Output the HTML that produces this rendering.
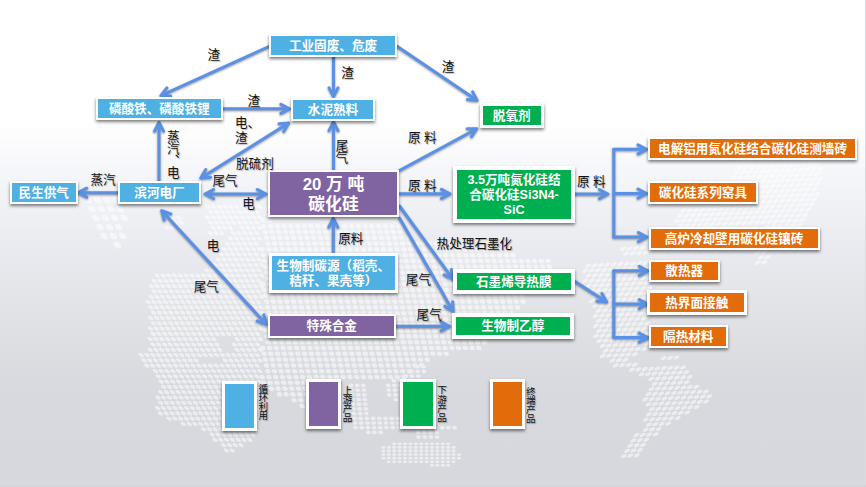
<!DOCTYPE html>
<html lang="zh"><head><meta charset="utf-8"><title>碳化硅</title>
<style>
html,body{margin:0;padding:0;}
body{width:866px;height:487px;overflow:hidden;position:relative;font-family:"Liberation Sans","Noto Sans CJK SC",sans-serif;
background:linear-gradient(to bottom,#ffffff 0px,#ffffff 122px,#f4f5f9 180px,#e8e9ee 260px,#e1e3e7 310px,#d8dadf 380px,#d7d9de 400px,#d6d8dd 487px);}
.bx{position:absolute;box-sizing:border-box;border-style:solid;border-color:#fff;color:#fff;font-weight:bold;text-align:center;
display:flex;align-items:center;justify-content:center;box-shadow:0 2px 3px rgba(0,0,0,.5);white-space:nowrap;}
.lb{position:absolute;color:#111;white-space:nowrap;line-height:1.2;text-shadow:1px 1px 1px rgba(0,0,0,.3);}
.vl{position:absolute;color:#111;writing-mode:vertical-rl;white-space:nowrap;text-shadow:1px 1px 1px rgba(0,0,0,.3);}
.sl{position:absolute;color:#111;text-align:center;word-break:break-all;line-break:anywhere;text-shadow:1px 1px 1px rgba(0,0,0,.3);}
.sl span{display:block;}
.bx i{font-style:normal;position:relative;}
svg{position:absolute;left:0;top:0;}
#edge{position:absolute;right:0;top:0;width:1px;height:487px;background:#d9dbdf;}
#btm{position:absolute;left:0;bottom:0;width:866px;height:2px;background:#cfd5d9;}
</style></head><body>

<svg width="866" height="487" viewBox="0 0 866 487"><g opacity="0.55">
<g transform="matrix(5.8 0 2.8 5.3 0 0)"><path d="M17 39h0M18 39h0M19 39h0M20 39h0M21 39h0M22 39h0M23 39h0M24 39h0M25 39h0M26 39h0M17 40h0M18 40h0M19 40h0M20 40h0M21 40h0M22 40h0M23 40h0M24 40h0M25 40h0M9 41h0M10 41h0M11 41h0M16 41h0M17 41h0M18 41h0M19 41h0M20 41h0M21 41h0M22 41h0M23 41h0M24 41h0M25 41h0M9 42h0M10 42h0M11 42h0M16 42h0M17 42h0M18 42h0M19 42h0M20 42h0M21 42h0M22 42h0M23 42h0M24 42h0M8 43h0M9 43h0M10 43h0M16 43h0M17 43h0M18 43h0M19 43h0M21 43h0M22 43h0M23 43h0M24 43h0M15 44h0M16 44h0M17 44h0M19 44h0M20 44h0M21 44h0M22 44h0M23 44h0M18 45h0M19 45h0M20 45h0M21 45h0M22 45h0M23 45h0M17 46h0M18 46h0M19 46h0M20 46h0M21 46h0M22 46h0M16 47h0M17 47h0M18 47h0M19 47h0M20 47h0M21 47h0M22 47h0M15 48h0M16 48h0M17 48h0M18 48h0M19 48h0M20 48h0M21 48h0M14 49h0M15 49h0M16 49h0M17 49h0M18 49h0M19 49h0M20 49h0M21 49h0M13 50h0M14 50h0M15 50h0M16 50h0M17 50h0M18 50h0M19 50h0M20 50h0M21 50h0M11 51h0M12 51h0M13 51h0M14 51h0M15 51h0M16 51h0M17 51h0M18 51h0M19 51h0M20 51h0M2 52h0M3 52h0M4 52h0M5 52h0M6 52h0M7 52h0M8 52h0M9 52h0M10 52h0M11 52h0M12 52h0M13 52h0M14 52h0M15 52h0M16 52h0M17 52h0M18 52h0M19 52h0M20 52h0M1 53h0M2 53h0M3 53h0M4 53h0M5 53h0M6 53h0M7 53h0M8 53h0M9 53h0M10 53h0M11 53h0M12 53h0M13 53h0M14 53h0M15 53h0M16 53h0M17 53h0M18 53h0M19 53h0M0 54h0M1 54h0M2 54h0M3 54h0M4 54h0M5 54h0M6 54h0M7 54h0M8 54h0M9 54h0M10 54h0M11 54h0M12 54h0M13 54h0M14 54h0M15 54h0M16 54h0M17 54h0M18 54h0M19 54h0M0 55h0M1 55h0M2 55h0M3 55h0M4 55h0M5 55h0M6 55h0M7 55h0M8 55h0M9 55h0M10 55h0M11 55h0M12 55h0M13 55h0M14 55h0M15 55h0M16 55h0M17 55h0M18 55h0M-1 56h0M0 56h0M1 56h0M2 56h0M3 56h0M4 56h0M5 56h0M6 56h0M7 56h0M8 56h0M9 56h0M10 56h0M11 56h0M12 56h0M13 56h0M14 56h0M15 56h0M16 56h0M17 56h0M18 56h0M-2 57h0M-1 57h0M0 57h0M1 57h0M2 57h0M3 57h0M4 57h0M5 57h0M6 57h0M7 57h0M8 57h0M9 57h0M10 57h0M11 57h0M12 57h0M13 57h0M14 57h0M15 57h0M16 57h0M17 57h0M-2 58h0M-1 58h0M0 58h0M1 58h0M2 58h0M3 58h0M4 58h0M5 58h0M6 58h0M7 58h0M8 58h0M9 58h0M10 58h0M11 58h0M12 58h0M13 58h0M14 58h0M15 58h0M16 58h0M17 58h0M-2 59h0M-1 59h0M0 59h0M1 59h0M2 59h0M3 59h0M4 59h0M5 59h0M6 59h0M7 59h0M8 59h0M9 59h0M10 59h0M11 59h0M12 59h0M13 59h0M14 59h0M15 59h0M16 59h0M-3 60h0M-2 60h0M-1 60h0M0 60h0M1 60h0M2 60h0M3 60h0M4 60h0M5 60h0M6 60h0M7 60h0M8 60h0M9 60h0M10 60h0M11 60h0M12 60h0M13 60h0M14 60h0M15 60h0M16 60h0M-3 61h0M-2 61h0M-1 61h0M0 61h0M1 61h0M2 61h0M3 61h0M4 61h0M5 61h0M6 61h0M7 61h0M8 61h0M9 61h0M10 61h0M11 61h0M12 61h0M13 61h0M14 61h0M15 61h0M-4 62h0M-3 62h0M-2 62h0M-1 62h0M0 62h0M1 62h0M2 62h0M3 62h0M4 62h0M5 62h0M6 62h0M7 62h0M8 62h0M9 62h0M10 62h0M11 62h0M12 62h0M13 62h0M14 62h0M15 62h0M-4 63h0M-3 63h0M-2 63h0M-1 63h0M0 63h0M1 63h0M2 63h0M3 63h0M4 63h0M5 63h0M6 63h0M7 63h0M8 63h0M9 63h0M10 63h0M11 63h0M12 63h0M13 63h0M14 63h0M-5 64h0M-4 64h0M-3 64h0M-2 64h0M-1 64h0M0 64h0M1 64h0M2 64h0M3 64h0M4 64h0M5 64h0M6 64h0M10 64h0M11 64h0M12 64h0M13 64h0M14 64h0M-5 65h0M-4 65h0M-3 65h0M-2 65h0M-1 65h0M0 65h0M1 65h0M2 65h0M3 65h0M4 65h0M5 65h0M6 65h0M9 65h0M10 65h0M11 65h0M12 65h0M13 65h0M-6 66h0M-5 66h0M-4 66h0M-3 66h0M-2 66h0M-1 66h0M0 66h0M1 66h0M2 66h0M3 66h0M4 66h0M5 66h0M6 66h0M9 66h0M10 66h0M11 66h0M12 66h0M13 66h0M-8 67h0M-7 67h0M-6 67h0M-5 67h0M-4 67h0M-3 67h0M-2 67h0M-1 67h0M0 67h0M1 67h0M2 67h0M3 67h0M4 67h0M5 67h0M6 67h0M7 67h0M8 67h0M9 67h0M10 67h0M11 67h0M12 67h0M-8 68h0M-7 68h0M-6 68h0M-5 68h0M-4 68h0M-3 68h0M-2 68h0M-1 68h0M0 68h0M1 68h0M6 68h0M7 68h0M8 68h0M9 68h0M10 68h0M11 68h0M12 68h0M-8 69h0M-7 69h0M-6 69h0M-5 69h0M-4 69h0M-3 69h0M-2 69h0M-1 69h0M0 69h0M1 69h0M2 69h0M3 69h0M4 69h0M5 69h0M6 69h0M7 69h0M8 69h0M9 69h0M10 69h0M11 69h0M-7 70h0M-6 70h0M-5 70h0M-4 70h0M-3 70h0M-2 70h0M-1 70h0M0 70h0M1 70h0M2 70h0M3 70h0M4 70h0M5 70h0M6 70h0M7 70h0M8 70h0M9 70h0M10 70h0M11 70h0M-7 71h0M-6 71h0M-5 71h0M-4 71h0M-3 71h0M-2 71h0M-1 71h0M0 71h0M1 71h0M2 71h0M3 71h0M4 71h0M5 71h0M6 71h0M7 71h0M8 71h0M9 71h0M10 71h0M-7 72h0M-6 72h0M-5 72h0M-4 72h0M-3 72h0M-2 72h0M-1 72h0M0 72h0M1 72h0M2 72h0M3 72h0M4 72h0M5 72h0M6 72h0M7 72h0M8 72h0M9 72h0M10 72h0M-7 73h0M-6 73h0M-5 73h0M-4 73h0M-3 73h0M-2 73h0M-1 73h0M0 73h0M1 73h0M2 73h0M3 73h0M4 73h0M5 73h0M6 73h0M7 73h0M8 73h0M9 73h0M-8 74h0M-7 74h0M-6 74h0M-5 74h0M-4 74h0M-3 74h0M-2 74h0M-1 74h0M0 74h0M1 74h0M2 74h0M3 74h0M4 74h0M5 74h0M6 74h0M7 74h0M8 74h0M-9 75h0M-8 75h0M-7 75h0M-6 75h0M-5 75h0M-4 75h0M-3 75h0M-2 75h0M-1 75h0M0 75h0M1 75h0M2 75h0M3 75h0M4 75h0M5 75h0M6 75h0M7 75h0M8 75h0M-9 76h0M-8 76h0M-7 76h0M-6 76h0M-5 76h0M-4 76h0M-3 76h0M-2 76h0M-1 76h0M0 76h0M1 76h0M2 76h0M3 76h0M4 76h0M5 76h0M6 76h0M7 76h0M-10 77h0M-9 77h0M-8 77h0M-7 77h0M-6 77h0M-5 77h0M-4 77h0M-3 77h0M-2 77h0M-1 77h0M0 77h0M1 77h0M2 77h0M3 77h0M4 77h0M5 77h0M6 77h0M7 77h0M-10 78h0M-9 78h0M-8 78h0M-7 78h0M-6 78h0M-5 78h0M-4 78h0M-3 78h0M-2 78h0M-1 78h0M0 78h0M1 78h0M2 78h0M3 78h0M4 78h0M5 78h0M6 78h0M-9 79h0M-8 79h0M-7 79h0M-6 79h0M-5 79h0M-4 79h0M-3 79h0M-2 79h0M-1 79h0M0 79h0M1 79h0M2 79h0M3 79h0M4 79h0M5 79h0M6 79h0M-7 80h0M-6 80h0M-5 80h0M-4 80h0M-3 80h0M-2 80h0M-1 80h0M0 80h0M1 80h0M2 80h0M3 80h0M4 80h0M5 80h0M-4 81h0M-3 81h0M-2 81h0M-1 81h0M0 81h0M1 81h0M2 81h0M3 81h0M4 81h0M5 81h0M-3 82h0M-2 82h0M-1 82h0M0 82h0M1 82h0M2 82h0M3 82h0M4 82h0M-3 83h0M-2 83h0M-1 83h0M0 83h0M1 83h0M2 83h0M3 83h0M-2 84h0M-1 84h0M0 84h0M1 84h0M-2 85h0M-1 85h0" fill="none" stroke="#fff" stroke-width="0.8" stroke-linecap="round"/></g>
<g transform="matrix(6.75 0 1.23 5.8 0 0)"><path d="M33 36h0M34 36h0M33 37h0M32 38h0M33 38h0M32 39h0M33 39h0M34 39h0M35 39h0M36 39h0M37 39h0M38 39h0M39 39h0M40 39h0M41 39h0M42 39h0M43 39h0M44 39h0M45 39h0M46 39h0M47 39h0M48 39h0M49 39h0M50 39h0M51 39h0M52 39h0M32 40h0M33 40h0M34 40h0M35 40h0M36 40h0M37 40h0M38 40h0M39 40h0M40 40h0M41 40h0M42 40h0M43 40h0M44 40h0M45 40h0M46 40h0M47 40h0M48 40h0M49 40h0M50 40h0M51 40h0M52 40h0M32 41h0M33 41h0M34 41h0M35 41h0M36 41h0M37 41h0M38 41h0M39 41h0M40 41h0M41 41h0M42 41h0M43 41h0M44 41h0M45 41h0M46 41h0M47 41h0M48 41h0M49 41h0M50 41h0M51 41h0M52 41h0M53 41h0M32 42h0M33 42h0M34 42h0M35 42h0M36 42h0M37 42h0M38 42h0M39 42h0M40 42h0M41 42h0M42 42h0M43 42h0M44 42h0M45 42h0M46 42h0M47 42h0M48 42h0M49 42h0M50 42h0M51 42h0M52 42h0M53 42h0M54 42h0M55 42h0M56 42h0M57 42h0M58 42h0M59 42h0M60 42h0M61 42h0M31 43h0M32 43h0M33 43h0M34 43h0M35 43h0M36 43h0M37 43h0M38 43h0M39 43h0M40 43h0M41 43h0M42 43h0M43 43h0M44 43h0M45 43h0M46 43h0M47 43h0M48 43h0M49 43h0M50 43h0M51 43h0M52 43h0M53 43h0M54 43h0M55 43h0M56 43h0M57 43h0M58 43h0M59 43h0M60 43h0M61 43h0M62 43h0M63 43h0M64 43h0M65 43h0M31 44h0M32 44h0M33 44h0M34 44h0M35 44h0M36 44h0M37 44h0M38 44h0M39 44h0M40 44h0M41 44h0M42 44h0M43 44h0M44 44h0M45 44h0M46 44h0M47 44h0M48 44h0M49 44h0M50 44h0M51 44h0M52 44h0M53 44h0M54 44h0M55 44h0M56 44h0M57 44h0M58 44h0M59 44h0M60 44h0M61 44h0M62 44h0M63 44h0M64 44h0M65 44h0M66 44h0M67 44h0M68 44h0M31 45h0M32 45h0M33 45h0M34 45h0M35 45h0M36 45h0M37 45h0M38 45h0M39 45h0M40 45h0M41 45h0M42 45h0M43 45h0M44 45h0M45 45h0M46 45h0M47 45h0M48 45h0M49 45h0M50 45h0M51 45h0M52 45h0M53 45h0M54 45h0M55 45h0M56 45h0M57 45h0M58 45h0M59 45h0M60 45h0M61 45h0M62 45h0M63 45h0M64 45h0M65 45h0M66 45h0M67 45h0M68 45h0M69 45h0M70 45h0M71 45h0M72 45h0M73 45h0M31 46h0M32 46h0M33 46h0M34 46h0M35 46h0M36 46h0M37 46h0M38 46h0M39 46h0M40 46h0M41 46h0M42 46h0M43 46h0M44 46h0M45 46h0M46 46h0M47 46h0M48 46h0M49 46h0M50 46h0M51 46h0M52 46h0M53 46h0M54 46h0M55 46h0M56 46h0M57 46h0M58 46h0M59 46h0M60 46h0M61 46h0M62 46h0M63 46h0M64 46h0M65 46h0M66 46h0M67 46h0M68 46h0M69 46h0M70 46h0M71 46h0M72 46h0M73 46h0M31 47h0M32 47h0M33 47h0M34 47h0M35 47h0M36 47h0M37 47h0M38 47h0M39 47h0M40 47h0M41 47h0M42 47h0M43 47h0M44 47h0M45 47h0M46 47h0M47 47h0M48 47h0M49 47h0M50 47h0M51 47h0M52 47h0M53 47h0M54 47h0M55 47h0M56 47h0M57 47h0M58 47h0M59 47h0M60 47h0M61 47h0M62 47h0M63 47h0M64 47h0M65 47h0M66 47h0M67 47h0M68 47h0M69 47h0M70 47h0M71 47h0M72 47h0M31 48h0M32 48h0M33 48h0M34 48h0M35 48h0M36 48h0M37 48h0M38 48h0M39 48h0M40 48h0M41 48h0M42 48h0M43 48h0M44 48h0M45 48h0M46 48h0M47 48h0M48 48h0M49 48h0M50 48h0M51 48h0M52 48h0M53 48h0M54 48h0M55 48h0M56 48h0M57 48h0M58 48h0M59 48h0M60 48h0M61 48h0M62 48h0M63 48h0M64 48h0M65 48h0M66 48h0M67 48h0M68 48h0M69 48h0M70 48h0M71 48h0M30 49h0M31 49h0M32 49h0M33 49h0M34 49h0M35 49h0M36 49h0M37 49h0M38 49h0M39 49h0M40 49h0M41 49h0M42 49h0M43 49h0M44 49h0M45 49h0M46 49h0M47 49h0M48 49h0M49 49h0M50 49h0M51 49h0M52 49h0M53 49h0M54 49h0M55 49h0M56 49h0M57 49h0M58 49h0M59 49h0M60 49h0M61 49h0M62 49h0M63 49h0M64 49h0M65 49h0M66 49h0M67 49h0M68 49h0M69 49h0M70 49h0M30 50h0M31 50h0M32 50h0M33 50h0M34 50h0M35 50h0M36 50h0M37 50h0M38 50h0M39 50h0M40 50h0M41 50h0M42 50h0M43 50h0M44 50h0M45 50h0M46 50h0M47 50h0M48 50h0M49 50h0M50 50h0M51 50h0M52 50h0M53 50h0M54 50h0M55 50h0M56 50h0M57 50h0M58 50h0M59 50h0M60 50h0M61 50h0M62 50h0M63 50h0M64 50h0M65 50h0M66 50h0M67 50h0M68 50h0M69 50h0M30 51h0M31 51h0M32 51h0M33 51h0M34 51h0M35 51h0M36 51h0M37 51h0M38 51h0M39 51h0M40 51h0M41 51h0M42 51h0M43 51h0M44 51h0M45 51h0M46 51h0M47 51h0M48 51h0M49 51h0M50 51h0M51 51h0M52 51h0M53 51h0M54 51h0M55 51h0M56 51h0M57 51h0M58 51h0M59 51h0M60 51h0M61 51h0M62 51h0M63 51h0M64 51h0M65 51h0M66 51h0M67 51h0M68 51h0M30 52h0M31 52h0M32 52h0M33 52h0M34 52h0M35 52h0M36 52h0M37 52h0M38 52h0M39 52h0M40 52h0M41 52h0M42 52h0M43 52h0M44 52h0M45 52h0M46 52h0M47 52h0M48 52h0M49 52h0M50 52h0M51 52h0M52 52h0M53 52h0M54 52h0M55 52h0M56 52h0M57 52h0M58 52h0M59 52h0M60 52h0M61 52h0M62 52h0M63 52h0M64 52h0M65 52h0M66 52h0M67 52h0M68 52h0M30 53h0M31 53h0M32 53h0M33 53h0M34 53h0M35 53h0M36 53h0M37 53h0M38 53h0M39 53h0M40 53h0M41 53h0M42 53h0M43 53h0M44 53h0M45 53h0M46 53h0M47 53h0M48 53h0M49 53h0M50 53h0M51 53h0M52 53h0M53 53h0M54 53h0M55 53h0M56 53h0M57 53h0M58 53h0M59 53h0M60 53h0M61 53h0M62 53h0M63 53h0M64 53h0M65 53h0M66 53h0M67 53h0M29 54h0M30 54h0M31 54h0M32 54h0M33 54h0M34 54h0M35 54h0M36 54h0M37 54h0M38 54h0M39 54h0M40 54h0M41 54h0M42 54h0M43 54h0M44 54h0M45 54h0M46 54h0M47 54h0M48 54h0M49 54h0M50 54h0M51 54h0M52 54h0M53 54h0M54 54h0M55 54h0M56 54h0M57 54h0M58 54h0M59 54h0M60 54h0M61 54h0M62 54h0M63 54h0M64 54h0M65 54h0M66 54h0M29 55h0M30 55h0M31 55h0M32 55h0M33 55h0M34 55h0M35 55h0M36 55h0M37 55h0M38 55h0M39 55h0M40 55h0M41 55h0M42 55h0M43 55h0M44 55h0M45 55h0M46 55h0M47 55h0M48 55h0M49 55h0M50 55h0M51 55h0M52 55h0M53 55h0M54 55h0M55 55h0M56 55h0M57 55h0M58 55h0M59 55h0M60 55h0M61 55h0M62 55h0M63 55h0M64 55h0M29 56h0M30 56h0M31 56h0M32 56h0M33 56h0M34 56h0M35 56h0M36 56h0M37 56h0M38 56h0M39 56h0M40 56h0M41 56h0M42 56h0M43 56h0M44 56h0M45 56h0M46 56h0M47 56h0M48 56h0M49 56h0M50 56h0M51 56h0M52 56h0M53 56h0M54 56h0M55 56h0M56 56h0M57 56h0M58 56h0M59 56h0M60 56h0M61 56h0M62 56h0M63 56h0M29 57h0M30 57h0M31 57h0M32 57h0M33 57h0M34 57h0M35 57h0M36 57h0M37 57h0M38 57h0M39 57h0M40 57h0M41 57h0M42 57h0M43 57h0M44 57h0M45 57h0M46 57h0M47 57h0M48 57h0M49 57h0M50 57h0M51 57h0M52 57h0M53 57h0M54 57h0M55 57h0M56 57h0M57 57h0M58 57h0M59 57h0M60 57h0M61 57h0M62 57h0M29 58h0M30 58h0M31 58h0M32 58h0M33 58h0M34 58h0M35 58h0M36 58h0M37 58h0M38 58h0M39 58h0M40 58h0M41 58h0M42 58h0M43 58h0M44 58h0M45 58h0M46 58h0M47 58h0M48 58h0M49 58h0M50 58h0M51 58h0M52 58h0M53 58h0M54 58h0M55 58h0M56 58h0M57 58h0M58 58h0M59 58h0M60 58h0M61 58h0M29 59h0M30 59h0M31 59h0M32 59h0M33 59h0M34 59h0M35 59h0M36 59h0M37 59h0M38 59h0M39 59h0M40 59h0M41 59h0M42 59h0M43 59h0M44 59h0M45 59h0M46 59h0M47 59h0M48 59h0M49 59h0M50 59h0M51 59h0M52 59h0M53 59h0M54 59h0M55 59h0M56 59h0M57 59h0M58 59h0M59 59h0M60 59h0M61 59h0M28 60h0M29 60h0M30 60h0M31 60h0M32 60h0M33 60h0M34 60h0M35 60h0M36 60h0M37 60h0M38 60h0M39 60h0M40 60h0M41 60h0M42 60h0M43 60h0M44 60h0M45 60h0M46 60h0M47 60h0M48 60h0M49 60h0M50 60h0M51 60h0M52 60h0M53 60h0M54 60h0M55 60h0M56 60h0M57 60h0M58 60h0M59 60h0M60 60h0M28 61h0M29 61h0M30 61h0M31 61h0M32 61h0M33 61h0M34 61h0M35 61h0M36 61h0M37 61h0M38 61h0M39 61h0M40 61h0M41 61h0M42 61h0M43 61h0M44 61h0M45 61h0M46 61h0M47 61h0M48 61h0M49 61h0M50 61h0M51 61h0M52 61h0M53 61h0M54 61h0M55 61h0M28 62h0M29 62h0M30 62h0M31 62h0M32 62h0M33 62h0M34 62h0M35 62h0M36 62h0M37 62h0M38 62h0M39 62h0M40 62h0M41 62h0M42 62h0M43 62h0M44 62h0M45 62h0M46 62h0M47 62h0M48 62h0M49 62h0M50 62h0M51 62h0M52 62h0M28 63h0M29 63h0M30 63h0M31 63h0M32 63h0M33 63h0M34 63h0M35 63h0M36 63h0M37 63h0M38 63h0M39 63h0M40 63h0M41 63h0M42 63h0M43 63h0M44 63h0M45 63h0M46 63h0M47 63h0M48 63h0M49 63h0M50 63h0M51 63h0M28 64h0M29 64h0M30 64h0M31 64h0M32 64h0M33 64h0M34 64h0M35 64h0M36 64h0M37 64h0M38 64h0M39 64h0M40 64h0M41 64h0M42 64h0M43 64h0M44 64h0M45 64h0M46 64h0M47 64h0M48 64h0M49 64h0M27 65h0M28 65h0M29 65h0M30 65h0M31 65h0M32 65h0M33 65h0M34 65h0M35 65h0M36 65h0M37 65h0M38 65h0M39 65h0M40 65h0M41 65h0M42 65h0M43 65h0M44 65h0M45 65h0M46 65h0M47 65h0M48 65h0M27 66h0M28 66h0M29 66h0M30 66h0M31 66h0M32 66h0M33 66h0M34 66h0M35 66h0M36 66h0M37 66h0M38 66h0M28 67h0M29 67h0M30 67h0M31 67h0M32 67h0M33 67h0M34 67h0M35 67h0M36 67h0M29 68h0M30 68h0M31 68h0M32 68h0M33 68h0M34 68h0M35 68h0M31 69h0M32 69h0M33 69h0M34 69h0M32 70h0" fill="none" stroke="#fff" stroke-width="0.8" stroke-linecap="round"/></g>
<g transform="matrix(6.2 0 0.5 4.7 0 0)"><path d="M61 78h0M62 78h0M60 79h0M61 79h0M62 79h0M59 80h0M60 80h0M61 80h0M57 81h0M58 81h0M59 81h0M60 81h0M50 82h0M51 82h0M52 82h0M56 82h0M57 82h0M58 82h0M59 82h0M60 82h0M50 83h0M51 83h0M52 83h0M56 83h0M57 83h0M58 83h0M59 83h0M50 84h0M51 84h0M52 84h0M56 84h0M57 84h0M58 84h0M50 85h0M51 85h0M52 85h0M57 85h0M58 85h0M50 86h0M51 86h0M52 86h0M50 87h0M51 87h0M52 87h0M50 88h0M51 88h0M52 88h0M50 89h0M51 89h0M52 89h0M53 89h0M54 89h0M55 89h0M56 89h0M57 89h0M50 90h0M51 90h0M52 90h0M53 90h0M54 90h0M55 90h0M56 90h0M57 90h0M50 91h0M51 91h0M52 91h0M53 91h0M54 91h0M55 91h0M56 91h0M57 91h0M64 91h0M65 91h0M66 91h0M52 92h0M53 92h0M54 92h0M60 92h0M61 92h0M62 92h0M63 92h0M60 93h0M61 93h0M62 93h0M63 93h0" fill="none" stroke="#fff" stroke-width="0.78" stroke-linecap="round"/></g>
<g transform="matrix(5.4 0 0 3.6 0 1)"><path d="M73 123h0M74 123h0M75 123h0M76 123h0M77 123h0M78 123h0M79 123h0M80 123h0M81 123h0M82 123h0M83 123h0M71 124h0M72 124h0M73 124h0M74 124h0M75 124h0M76 124h0M77 124h0M78 124h0M79 124h0M80 124h0M81 124h0M82 124h0M83 124h0M84 124h0M71 125h0M72 125h0M73 125h0M74 125h0M75 125h0M76 125h0M77 125h0M78 125h0M79 125h0M80 125h0M81 125h0M82 125h0M83 125h0M84 125h0M71 126h0M72 126h0M73 126h0M74 126h0M75 126h0M76 126h0M77 126h0M78 126h0M79 126h0M80 126h0M81 126h0M82 126h0M83 126h0M84 126h0M85 126h0M71 127h0M72 127h0M73 127h0M74 127h0M75 127h0M76 127h0M77 127h0M78 127h0M79 127h0M80 127h0M81 127h0M82 127h0M83 127h0M84 127h0M85 127h0M72 128h0M73 128h0M74 128h0M75 128h0M76 128h0M77 128h0M78 128h0M79 128h0M80 128h0M81 128h0M82 128h0M83 128h0M84 128h0M80 129h0M81 129h0M82 129h0M83 129h0" fill="none" stroke="#fff" stroke-width="0.78" stroke-linecap="round"/></g>
<g transform="matrix(9.4 0 4 9 0 2)"><path d="M0 22h0M1 22h0M2 22h0M3 22h0M0 23h0M1 23h0M2 23h0M3 23h0M0 24h0M1 24h0M2 24h0M3 24h0M0 25h0M1 25h0M2 25h0M0 26h0M1 26h0M2 26h0M1 27h0" fill="none" stroke="#fff" stroke-width="0.72" stroke-linecap="round"/></g>
<g transform="matrix(6.4 -0.3 -3.1 5.2 0 0)"><path d="M134 39h0M135 39h0M136 39h0M135 40h0M136 40h0M137 40h0M138 40h0M139 40h0M140 40h0M141 40h0M142 40h0M143 40h0M144 40h0M145 40h0M146 40h0M147 40h0M135 41h0M136 41h0M137 41h0M138 41h0M139 41h0M140 41h0M141 41h0M142 41h0M143 41h0M144 41h0M145 41h0M146 41h0M147 41h0M148 41h0M135 42h0M136 42h0M137 42h0M138 42h0M139 42h0M140 42h0M141 42h0M142 42h0M143 42h0M144 42h0M145 42h0M146 42h0M147 42h0M148 42h0M135 43h0M136 43h0M137 43h0M138 43h0M139 43h0M140 43h0M141 43h0M142 43h0M143 43h0M144 43h0M145 43h0M146 43h0M147 43h0M148 43h0M149 43h0M136 44h0M137 44h0M138 44h0M139 44h0M140 44h0M141 44h0M142 44h0M143 44h0M144 44h0M145 44h0M146 44h0M147 44h0M148 44h0M149 44h0M136 45h0M137 45h0M138 45h0M139 45h0M140 45h0M141 45h0M142 45h0M143 45h0M144 45h0M145 45h0M146 45h0M147 45h0M148 45h0M149 45h0M136 46h0M137 46h0M138 46h0M139 46h0M140 46h0M141 46h0M142 46h0M143 46h0M144 46h0M145 46h0M146 46h0M147 46h0M148 46h0M149 46h0M150 46h0M136 47h0M137 47h0M138 47h0M139 47h0M140 47h0M141 47h0M142 47h0M143 47h0M144 47h0M145 47h0M146 47h0M147 47h0M148 47h0M149 47h0M150 47h0M130 48h0M131 48h0M132 48h0M133 48h0M134 48h0M135 48h0M136 48h0M137 48h0M138 48h0M139 48h0M140 48h0M141 48h0M142 48h0M143 48h0M144 48h0M145 48h0M146 48h0M147 48h0M148 48h0M149 48h0M150 48h0M130 49h0M131 49h0M132 49h0M133 49h0M134 49h0M135 49h0M136 49h0M137 49h0M138 49h0M139 49h0M140 49h0M141 49h0M142 49h0M143 49h0M144 49h0M145 49h0M146 49h0M147 49h0M148 49h0M149 49h0M150 49h0M130 50h0M131 50h0M132 50h0M133 50h0M134 50h0M135 50h0M136 50h0M137 50h0M138 50h0M139 50h0M140 50h0M141 50h0M142 50h0M143 50h0M144 50h0M145 50h0M146 50h0M147 50h0M148 50h0M149 50h0M150 50h0M131 51h0M132 51h0M133 51h0M134 51h0M135 51h0M136 51h0M137 51h0M138 51h0M139 51h0M140 51h0M141 51h0M142 51h0M143 51h0M144 51h0M145 51h0M146 51h0M147 51h0M148 51h0M149 51h0M150 51h0M145 52h0M146 52h0M147 52h0M148 52h0M149 52h0M150 52h0M124 55h0M125 55h0M126 55h0M127 55h0M125 56h0M126 56h0M127 56h0M128 56h0M146 57h0M147 57h0M120 58h0M121 58h0M122 58h0M123 58h0M124 58h0M125 58h0M126 58h0M127 58h0M128 58h0M129 58h0M147 58h0M148 58h0M120 59h0M121 59h0M122 59h0M123 59h0M124 59h0M125 59h0M126 59h0M127 59h0M128 59h0M129 59h0M130 59h0M147 59h0M148 59h0M121 60h0M122 60h0M123 60h0M124 60h0M125 60h0M126 60h0M127 60h0M128 60h0M129 60h0M130 60h0M121 61h0M122 61h0M123 61h0M124 61h0M125 61h0M126 61h0M127 61h0M128 61h0M129 61h0M130 61h0M131 61h0M122 62h0M123 62h0M124 62h0M125 62h0M126 62h0M127 62h0M128 62h0M129 62h0M130 62h0M131 62h0M123 63h0M124 63h0M125 63h0M126 63h0M127 63h0M128 63h0M129 63h0M130 63h0M131 63h0M132 63h0M124 64h0M125 64h0M126 64h0M127 64h0M128 64h0M129 64h0M130 64h0M131 64h0M132 64h0M124 65h0M125 65h0M126 65h0M127 65h0M128 65h0M129 65h0M130 65h0M131 65h0M132 65h0M133 65h0M125 66h0M126 66h0M127 66h0M128 66h0M129 66h0M130 66h0M131 66h0M132 66h0M133 66h0M126 67h0M127 67h0M128 67h0M129 67h0M130 67h0M131 67h0M132 67h0M133 67h0M134 67h0M126 68h0M127 68h0M128 68h0M129 68h0M130 68h0M131 68h0M132 68h0M133 68h0M134 68h0M127 69h0M128 69h0M129 69h0M130 69h0M131 69h0M132 69h0M133 69h0M134 69h0M127 70h0M128 70h0M129 70h0M130 70h0M131 70h0M132 70h0M133 70h0M134 70h0M135 70h0M128 71h0M129 71h0M130 71h0M131 71h0M132 71h0M133 71h0M134 71h0M135 71h0M128 72h0M129 72h0M130 72h0M131 72h0M132 72h0M133 72h0M134 72h0M135 72h0M136 72h0M129 73h0M130 73h0M131 73h0M132 73h0M133 73h0M134 73h0M135 73h0M136 73h0M130 74h0M131 74h0M132 74h0M133 74h0M134 74h0M135 74h0M136 74h0M137 74h0M131 75h0M132 75h0M133 75h0M134 75h0M135 75h0M136 75h0M137 75h0M131 76h0M132 76h0M133 76h0M134 76h0M135 76h0M136 76h0M133 77h0M134 77h0M135 77h0M141 77h0M142 77h0M143 77h0M134 78h0M135 78h0M136 78h0M137 78h0M137 79h0M138 79h0M139 79h0M140 79h0M141 79h0M142 79h0M143 79h0M144 79h0M145 79h0M139 80h0M140 80h0M141 80h0M142 80h0M143 80h0M144 80h0M145 80h0M146 80h0M141 81h0M142 81h0M143 81h0M144 81h0M145 81h0M146 81h0M147 81h0M142 82h0M143 82h0M144 82h0M145 82h0M146 82h0M147 82h0M142 83h0M143 83h0M144 83h0M145 83h0M146 83h0M147 83h0M148 83h0M149 83h0M142 84h0M143 84h0M144 84h0M145 84h0M146 84h0M147 84h0M148 84h0M149 84h0M150 84h0M151 84h0M142 85h0M143 85h0M144 85h0M145 85h0M146 85h0M147 85h0M148 85h0M149 85h0M150 85h0M151 85h0M152 85h0M143 86h0M144 86h0M145 86h0M146 86h0M147 86h0M148 86h0M149 86h0M150 86h0M151 86h0M152 86h0M144 87h0M145 87h0M146 87h0M147 87h0M148 87h0M149 87h0M150 87h0M151 87h0M144 88h0M145 88h0M146 88h0M147 88h0M148 88h0M149 88h0M150 88h0M144 89h0M145 89h0M146 89h0M147 89h0M148 89h0M149 89h0M145 90h0M146 90h0M147 90h0M148 90h0M145 91h0M146 91h0M147 91h0M144 92h0M145 92h0M146 92h0M147 92h0M144 93h0M145 93h0M146 93h0M144 94h0M145 94h0M146 94h0M144 95h0M145 95h0M146 95h0M144 96h0M145 96h0M146 96h0" fill="none" stroke="#fff" stroke-width="0.8" stroke-linecap="round"/></g>
</g></svg>
<svg width="866" height="487" viewBox="0 0 866 487"><g fill="none" stroke="#5A91E6" stroke-width="3" stroke-linecap="round" stroke-linejoin="round" style="filter:drop-shadow(0.3px 1.6px 0.8px rgba(0,0,0,.42))">
<path d="M269.0 46.5L160.9 95.6M166.9 87.9L160.9 95.6L170.6 96.1"/>
<path d="M333.5 57.0L333.5 96.5M329.0 87.9L333.5 96.5L338.0 87.9"/>
<path d="M397.0 46.3L477.2 100.4M467.5 99.4L477.2 100.4L472.6 91.9"/>
<path d="M223.0 108.8L289.5 108.8M280.9 113.3L289.5 108.8L280.9 104.3"/>
<path d="M159.0 181.0L159.0 122.5M163.5 131.1L159.0 122.5L154.5 131.1"/>
<path d="M200.8 178.0L288.7 123.0M283.7 131.4L288.7 123.0L279.0 123.8M205.8 169.6L200.8 178.0L210.5 177.2"/>
<path d="M118.0 192.7L78.2 192.7M86.8 188.2L78.2 192.7L86.8 197.2"/>
<path d="M205.0 194.0L266.0 194.0M257.4 198.5L266.0 194.0L257.4 189.5M213.6 189.5L205.0 194.0L213.6 198.5"/>
<path d="M333.5 170.0L333.5 122.0M338.0 130.6L333.5 122.0L329.0 130.6"/>
<path d="M399.5 170.5L476.8 128.7M471.4 136.7L476.8 128.7L467.1 128.8"/>
<path d="M400.0 193.8L450.0 193.8M441.4 198.3L450.0 193.8L441.4 189.3"/>
<path d="M399.5 206.0L452.9 279.2M444.2 274.9L452.9 279.2L451.5 269.6"/>
<path d="M399.5 218.0L453.1 311.4M444.9 306.2L453.1 311.4L452.7 301.7"/>
<path d="M333.3 253.0L333.3 218.5M337.8 227.1L333.3 218.5L328.8 227.1"/>
<path d="M161.7 210.7L266.3 324.3M257.2 321.0L266.3 324.3L263.8 314.9M170.8 214.0L161.7 210.7L164.2 220.1"/>
<path d="M395.5 326.3L449.5 326.3M440.9 330.8L449.5 326.3L440.9 321.8"/>
<path d="M575.0 194.0L608.0 194.0M599.4 198.5L608.0 194.0L599.4 189.5"/>
<path d="M613.8 149.3L646.6 149.3M638.0 153.8L646.6 149.3L638.0 144.8"/>
<path d="M613.8 193.5L646.6 193.5M638.0 198.0L646.6 193.5L638.0 189.0"/>
<path d="M613.8 237.0L647.0 237.0M638.4 241.5L647.0 237.0L638.4 232.5"/>
<path d="M575.0 281.5L606.7 302.0M597.0 301.1L606.7 302.0L601.9 293.5"/>
<path d="M613.8 270.8L647.8 270.8M639.2 275.3L647.8 270.8L639.2 266.3"/>
<path d="M613.8 304.0L647.8 304.0M639.2 308.5L647.8 304.0L639.2 299.5"/>
<path d="M613.8 337.6L647.8 337.6M639.2 342.1L647.8 337.6L639.2 333.1"/>
<path d="M613.8 149.3L613.8 237.0"/>
<path d="M613.8 270.8L613.8 337.6"/>
</g></svg>
<div class="bx" style="left:268.7px;top:33.7px;width:128.6px;height:23.6px;border-width:2.6px;background:#4FB1E3;font-size:12.6px;"><span style="position:relative;top:-1px;">工业固废、危废</span></div>
<div class="bx" style="left:95.5px;top:97.2px;width:127.5px;height:23.1px;border-width:2.3px;background:#4FB1E3;font-size:12.6px;"><span style="position:relative;top:-1px;">磷酸铁、磷酸铁锂</span></div>
<div class="bx" style="left:291px;top:97.5px;width:84.0px;height:23.0px;border-width:2.5px;background:#4FB1E3;font-size:12.6px;"><span style="position:relative;top:-1px;">水泥熟料</span></div>
<div class="bx" style="left:479.8px;top:103.2px;width:63.8px;height:24.4px;border-width:3.4px;background:#00B050;font-size:12.6px;"><span style="position:relative;top:-1px;">脱氧剂</span></div>
<div class="bx" style="left:10px;top:181px;width:67.5px;height:23.0px;border-width:2px;background:#4FB1E3;font-size:12.6px;"><span style="position:relative;top:-1px;">民生供气</span></div>
<div class="bx" style="left:118px;top:181px;width:83.0px;height:23.0px;border-width:2.5px;background:#4FB1E3;font-size:12.6px;"><span style="position:relative;top:-1px;">滨河电厂</span></div>
<div class="bx" style="left:268px;top:170px;width:131.0px;height:46.5px;border-width:2.5px;background:#8064A2;font-size:16.8px;line-height:20px;"><span style="position:relative;top:2.0px;display:block;width:72.0px;white-space:normal;">20 万 吨 碳化硅</span></div>
<div class="bx" style="left:453px;top:166px;width:122.0px;height:57.0px;border-width:4px;background:#00B050;font-size:12.6px;line-height:14.8px;"><span style="position:relative;top:0.7px;display:block;width:100.0px;white-space:normal;">3.5万吨氮化硅结合碳化硅Si3N4-SiC</span></div>
<div class="bx" style="left:647.6px;top:136.8px;width:209.9px;height:23.2px;border-width:2.3px;background:#E36C0A;font-size:12.6px;"><span style="position:relative;top:-1px;">电解铝用氮化硅结合碳化硅测墙砖</span></div>
<div class="bx" style="left:647.8px;top:181px;width:110.2px;height:23.0px;border-width:2.4px;background:#E36C0A;font-size:12.6px;"><span style="position:relative;top:-1px;">碳化硅系列窑具</span></div>
<div class="bx" style="left:648.5px;top:226.5px;width:171.0px;height:23.5px;border-width:2.5px;background:#E36C0A;font-size:12.6px;"><span style="position:relative;top:-1px;">高炉冷却壁用碳化硅镶砖</span></div>
<div class="bx" style="left:268.5px;top:252.5px;width:129.5px;height:40.0px;border-width:3px;background:#4FB1E3;font-size:12.6px;line-height:15px;"><span style="position:relative;top:1.3px;display:block;width:118.0px;white-space:normal;">生物制碳源（稻壳、秸秆、果壳等）</span></div>
<div class="bx" style="left:268px;top:313.5px;width:127.5px;height:24.0px;border-width:2.5px;background:#8064A2;font-size:12.6px;"><span style="position:relative;top:-1px;">特殊合金</span></div>
<div class="bx" style="left:452.7px;top:268.8px;width:122.1px;height:25.0px;border-width:4px;background:#00B050;font-size:12.6px;"><span style="position:relative;top:-1px;">石墨烯导热膜</span></div>
<div class="bx" style="left:451.5px;top:312.8px;width:122.5px;height:25.8px;border-width:4px;background:#00B050;font-size:12.6px;"><span style="position:relative;top:-1px;">生物制乙醇</span></div>
<div class="bx" style="left:648.5px;top:259.5px;width:71.5px;height:22.5px;border-width:2.5px;background:#E36C0A;font-size:12.6px;"><span style="position:relative;top:-1px;">散热器</span></div>
<div class="bx" style="left:647px;top:290px;width:99.5px;height:24.5px;border-width:3px;background:#E36C0A;font-size:12.6px;"><span style="position:relative;top:-1px;">热界面接触</span></div>
<div class="bx" style="left:648.5px;top:325px;width:79.5px;height:23.0px;border-width:2.5px;background:#E36C0A;font-size:12.6px;"><span style="position:relative;top:-1px;">隔热材料</span></div>
<div class="bx" style="left:221.5px;top:380.5px;width:35.5px;height:50.0px;border-width:3px;background:#4FB1E3;font-size:0px;"></div>
<div class="bx" style="left:305.5px;top:378.5px;width:35.5px;height:50.0px;border-width:3px;background:#8064A2;font-size:0px;"></div>
<div class="bx" style="left:400px;top:378.5px;width:35.5px;height:50.0px;border-width:3px;background:#00B050;font-size:0px;"></div>
<div class="bx" style="left:489.5px;top:378.5px;width:35.5px;height:50.0px;border-width:3px;background:#E36C0A;font-size:0px;"></div>
<div class="lb" style="left:207.4px;top:48.4px;font-size:12.6px;">渣</div>
<div class="lb" style="left:341.3px;top:66.3px;font-size:12.6px;">渣</div>
<div class="lb" style="left:441.7px;top:59.5px;font-size:12.6px;">渣</div>
<div class="lb" style="left:247.5px;top:93.8px;font-size:12.6px;">渣</div>
<div class="lb" style="left:235px;top:116px;font-size:12.6px;width:26px;white-space:normal;">电、渣</div>
<div class="lb" style="left:236px;top:156.5px;font-size:12.6px;">脱硫剂</div>
<div class="lb" style="left:212.5px;top:174px;font-size:12.6px;">尾气</div>
<div class="lb" style="left:242.3px;top:197px;font-size:12.6px;">电</div>
<div class="lb" style="left:90.5px;top:173.1px;font-size:12.6px;">蒸汽</div>
<div class="lb" style="left:408px;top:131.1px;font-size:12.6px;">原 料</div>
<div class="lb" style="left:408px;top:179px;font-size:12.6px;">原 料</div>
<div class="lb" style="left:577px;top:174.6px;font-size:12.6px;">原 料</div>
<div class="lb" style="left:338.2px;top:232.3px;font-size:12.6px;">原料</div>
<div class="lb" style="left:436.6px;top:236.8px;font-size:12.6px;">热处理石墨化</div>
<div class="lb" style="left:405.8px;top:273px;font-size:12.6px;">尾气</div>
<div class="lb" style="left:416.6px;top:307.6px;font-size:12.6px;">尾气</div>
<div class="lb" style="left:206.7px;top:239.4px;font-size:12.6px;">电</div>
<div class="lb" style="left:193.7px;top:280.3px;font-size:12.6px;">尾气</div>
<div class="vl" style="left:165.3px;top:129.5px;font-size:12.6px;line-height:12.6px;letter-spacing:-0.7px;">蒸汽、电</div>
<div class="vl" style="left:334px;top:138.6px;font-size:12.6px;line-height:12.6px;letter-spacing:-0.8px;">尾气</div>
<div class="sl" style="left:258.4px;top:384.2px;width:9.6px;font-size:9.6px;line-height:9.1px;">循环利用</div>
<div class="sl" style="left:342.8px;top:386px;width:9.6px;font-size:9.6px;line-height:9.1px;">上游产品</div>
<div class="sl" style="left:437.3px;top:385.4px;width:9.6px;font-size:9.6px;line-height:9.2px;">下游产品</div>
<div class="sl" style="left:526.1px;top:386.8px;width:9.6px;font-size:9.6px;line-height:9.1px;">终端产品</div>
<div id="edge"></div><div id="btm"></div>
</body></html>
